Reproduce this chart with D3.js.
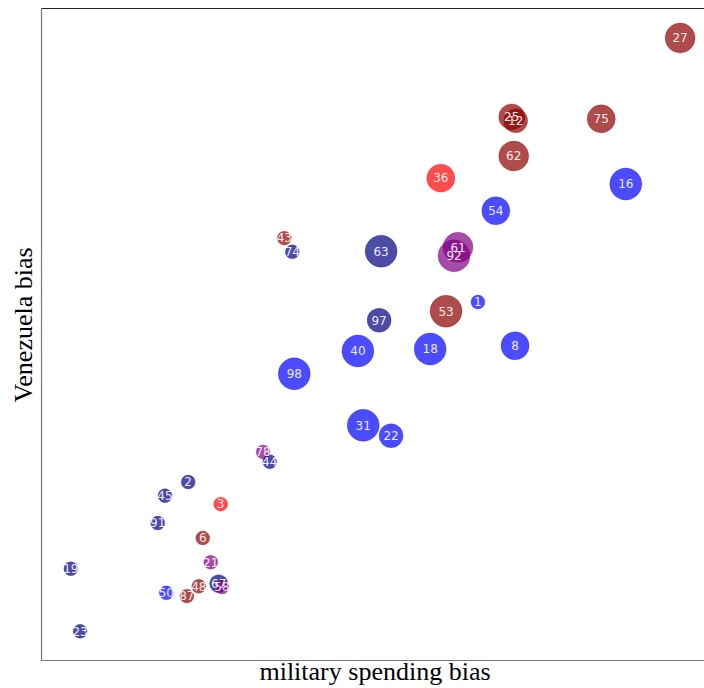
<!DOCTYPE html>
<html>
<head>
<meta charset="utf-8">
<script src="https://cdn.jsdelivr.net/npm/d3@7/dist/d3.min.js"></script>
<style>
  html, body { margin: 0; padding: 0; background: #fff; }
  svg { display: block; }
</style>
</head>
<body>
<svg id="chart" width="704" height="688"></svg>
<script>
// ---- data ----
const ids    = [27, 25, 12, 75, 62, 36, 16, 54, 92, 61, 63, 43, 74, 1, 53, 97, 40, 18, 8, 98, 31, 22, 78, 44, 2, 45, 3, 91, 6, 21, 19, 67, 58, 48, 87, 50, 23];
const xVals  = [96.4, 71.0, 71.6, 84.5, 71.3, 60.3, 88.2, 68.6, 62.3, 62.9, 51.3, 36.7, 37.9, 65.9, 61.1, 51.0, 47.8, 58.7, 71.5, 38.2, 48.6, 52.8, 33.5, 34.5, 22.2, 18.7, 27.1, 17.6, 24.4, 25.6, 4.5, 26.8, 27.3, 23.8, 22.0, 18.9, 5.9];
const yVals  = [95.4, 83.3, 82.7, 83.0, 77.3, 73.9, 73.0, 68.9, 62.0, 63.3, 62.7, 64.7, 62.6, 54.9, 53.5, 52.1, 47.4, 47.7, 48.2, 43.9, 36.0, 34.4, 31.9, 30.4, 27.3, 25.2, 23.9, 21.0, 18.7, 15.0, 14.0, 11.7, 11.2, 11.3, 9.8, 10.3, 4.4];
const weights= [88, 66, 56, 77, 88, 77, 100, 77, 100, 88, 100, 19, 19, 19, 100, 56, 100, 100, 77, 100, 100, 56, 19, 19, 19, 19, 19, 19, 19, 19, 19, 32, 19, 19, 19, 19, 19];
const groups = ["darkred","darkred","darkred","darkred","darkred","red","blue","blue","purple","purple","navy","darkred","navy","blue","darkred","navy","blue","blue","blue","blue","blue","blue","purple","navy","navy","navy","red","navy","darkred","purple","navy","navy","purple","darkred","darkred","blue","navy"];
const groupNames  = ["red", "darkred", "blue", "navy", "purple"];
const groupColors = ["#ff0000", "#8b0000", "#0000ff", "#000080", "#800080"];
const xLabel = "military spending bias";
const yLabel = "Venezuela bias";

const points = ids.map((id, i) => ({ id, x: xVals[i], y: yVals[i], w: weights[i], g: groups[i] }));

// ---- layout ----
const mLeft = 41, mTop = 8, mBottom = 660, mRight = 704;

const svg = d3.select("#chart");
const x = d3.scaleLinear().domain([0, 100]).range([mLeft, mRight]);
const y = d3.scaleLinear().domain([0, 100]).range([mBottom, mTop]);
const r = d3.scaleSqrt().domain([0, 100]).range([0, 16]);
const color = d3.scaleOrdinal().domain(groupNames).range(groupColors);

// frame
svg.append("line").attr("x1", mLeft).attr("x2", mRight + 10).attr("y1", mTop + 0.5).attr("y2", mTop + 0.5)
  .attr("stroke", "#222").attr("stroke-width", 1);
svg.append("line").attr("x1", mLeft + 0.5).attr("x2", mLeft + 0.5).attr("y1", mTop).attr("y2", mBottom + 1)
  .attr("stroke", "#777").attr("stroke-width", 1.2);
svg.append("line").attr("x1", mLeft).attr("x2", mRight + 10).attr("y1", mBottom + 0.5).attr("y2", mBottom + 0.5)
  .attr("stroke", "#777").attr("stroke-width", 1.2);

// circles (all first)
svg.append("g").selectAll("circle").data(points).join("circle")
  .attr("cx", d => x(d.x))
  .attr("cy", d => y(d.y))
  .attr("r", d => r(d.w))
  .attr("fill", d => color(d.g))
  .attr("fill-opacity", 0.7)
  .attr("stroke", d => color(d.g))
  .attr("stroke-opacity", 0.25)
  .attr("stroke-width", 1);

// labels on top
svg.append("g").selectAll("text").data(points).join("text")
  .attr("x", d => x(d.x))
  .attr("y", d => y(d.y))
  .attr("text-anchor", "middle")
  .attr("dy", "0.36em")
  .attr("fill", "#fff")
  .attr("fill-opacity", 0.92)
  .style("font-family", "'DejaVu Sans', sans-serif")
  .style("font-size", "12px")
  .text(d => d.id);

// axis labels
svg.append("text")
  .attr("x", 375).attr("y", 680)
  .attr("text-anchor", "middle")
  .style("font-family", "'Liberation Serif', 'Times New Roman', serif")
  .style("font-size", "26px")
  .attr("fill", "#000")
  .text(xLabel);
svg.append("text")
  .attr("transform", "translate(32,325) rotate(-90)")
  .attr("text-anchor", "middle")
  .style("font-family", "'Liberation Serif', 'Times New Roman', serif")
  .style("font-size", "26px")
  .attr("fill", "#000")
  .text(yLabel);
</script>
</body>
</html>
